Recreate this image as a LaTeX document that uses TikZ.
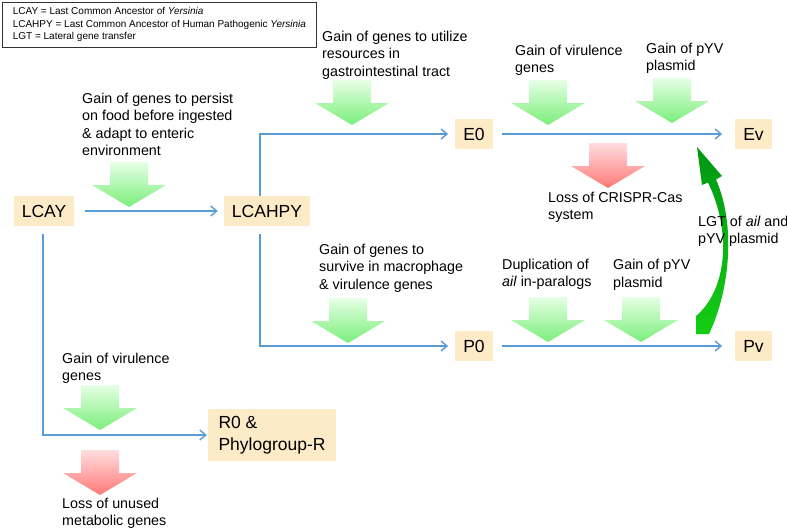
\documentclass[tikz,border=0pt]{standalone}
\usepackage{fontspec}
\setmainfont{Liberation Sans}
\usetikzlibrary{arrows.meta}
\definecolor{boxfill}{RGB}{252,235,198}
\definecolor{linkblue}{RGB}{91,155,213}
\definecolor{gtop}{RGB}{230,255,230}
\definecolor{gbot}{RGB}{122,238,122}
\definecolor{rtop}{RGB}{255,222,222}
\definecolor{rbot}{RGB}{255,120,120}
\definecolor{cgtop}{RGB}{0,150,20}
\definecolor{cgbot}{RGB}{20,205,20}
\newcommand\blkarrow[3]{\shade[top color=#3top,bottom color=#3bot]
  ({#1-19},#2) -- ({#1+19},#2) -- ({#1+19},{#2+23}) -- ({#1+37},{#2+23})
  -- (#1,{#2+45}) -- ({#1-37},{#2+23}) -- ({#1-19},{#2+23}) -- cycle;}
\tikzset{
  lbl/.style={anchor=north west, inner sep=0pt, align=left,
    font=\fontsize{14.3}{17.5}\selectfont},
  taxon/.style={fill=boxfill, inner xsep=8pt, inner ysep=0pt, minimum height=30pt,
    font=\fontsize{17.5}{22}\selectfont},
  conn/.style={draw=linkblue, line width=1.4pt, -{Straight Barb[length=6pt,width=10pt]}},
}
\begin{document}
\begin{tikzpicture}[x=1pt,y=-1pt]
\useasboundingbox (0,0) rectangle (787,528);
% legend
\node[draw=black!80, line width=0.8pt, anchor=north west, minimum width=314pt,
  minimum height=45pt, inner xsep=4pt, align=left,
  font=\fontsize{10}{12.5}\selectfont] (legend) at (2,2)
  {LCAY = Last Common Ancestor of \textit{Yersinia}\\
   LCAHPY = Last Common Ancestor of Human Pathogenic \textit{Yersinia}\\
   LGT = Lateral gene transfer};
% taxa
\node[taxon] (LCAY) at (44,211) {LCAY};
\node[taxon] (LCAHPY) at (267,211) {LCAHPY};
\node[taxon] (E0) at (474,134) {E0};
\node[taxon] (Ev) at (753.5,134) {Ev};
\node[taxon] (P0) at (474,346) {P0};
\node[taxon] (Pv) at (753.5,346) {Pv};
\node[taxon, align=left, minimum width=128pt, minimum height=52pt] (R0) at (272,435)
  {R0 \&\\Phylogroup-R};
% connectors
\draw[conn, shorten <=11pt, shorten >=6pt] (LCAY) -- (LCAHPY);
\draw[conn, shorten >=7pt] ([xshift=-7pt]LCAHPY.north) |- (E0.west);
\draw[conn, shorten <=8pt, shorten >=7pt] ([xshift=-7pt]LCAHPY.south) |- (P0.west);
\draw[conn, shorten <=8pt, shorten >=1pt] ([xshift=-1pt]LCAY.south) |- (R0.west);
\draw[conn, shorten <=9pt, shorten >=13pt] (E0.east) -- (Ev.west);
\draw[conn, shorten <=9pt, shorten >=13pt] (P0.east) -- (Pv.west);
% block arrows
\blkarrow{129}{162}{g}
\blkarrow{352}{80}{g}
\blkarrow{548}{80}{g}
\blkarrow{672}{78}{g}
\blkarrow{608}{143}{r}
\blkarrow{348}{298}{g}
\blkarrow{548}{297}{g}
\blkarrow{641}{297}{g}
\blkarrow{100}{385}{g}
\blkarrow{100}{450}{r}
% curved LGT arrow
\shade[top color=cgtop,bottom color=cgbot] (696,334) -- (709,334)
  .. controls (730,290) and (736,225) .. (716,179.5) -- (722,176) -- (697,147)
  -- (702,185) -- (708,182.5) .. controls (732,232) and (727,290) .. (696,316) -- cycle;
% labels
\node[lbl] (t1) at (82,92.5) {Gain of genes to persist\\on food before ingested\\\& adapt to enteric\\environment};
\node[lbl] (t2) at (322,30.5) {Gain of genes to utilize\\resources in\\gastrointestinal tract};
\node[lbl] (t3) at (515,44.5) {Gain of virulence\\genes};
\node[lbl] (t4) at (646,42.5) {Gain of pYV\\plasmid};
\node[lbl] (t5) at (548,191.5) {Loss of CRISPR-Cas\\system};
\node[lbl] (t6) at (319,243.5) {Gain of genes to\\survive in macrophage\\\& virulence genes};
\node[lbl] (t7) at (502,258.5) {Duplication of\\\textit{ail} in-paralogs};
\node[lbl] (t8) at (613,259) {Gain of pYV\\plasmid};
\node[lbl] (t9) at (698,215.5) {LGT of \textit{ail} and\\pYV plasmid};
\node[lbl] (t10) at (62,352.5) {Gain of virulence\\genes};
\node[lbl] (t11) at (62,497.5) {Loss of unused\\metabolic genes};
\end{tikzpicture}
\end{document}
